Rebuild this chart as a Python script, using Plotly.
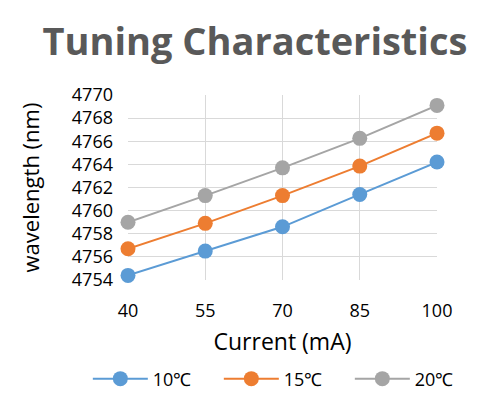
import plotly.graph_objects as go

current = [40, 55, 70, 85, 100]
tick_labels = ["40", "55", "70", "85", "100"]
series_names = ["10℃", "15℃", "20℃"]
wl_10 = [4754.4, 4756.5, 4758.6, 4761.4, 4764.2]
wl_15 = [4756.7, 4758.9, 4761.3, 4763.85, 4766.7]
wl_20 = [4759.0, 4761.3, 4763.7, 4766.25, 4769.1]
colors = ["#5B9BD5", "#ED7D31", "#A5A5A5"]

fig = go.Figure()
for name, ys, c in zip(series_names, [wl_10, wl_15, wl_20], colors):
    fig.add_trace(go.Scatter(
        x=current, y=ys, name=name, mode="lines+markers",
        line=dict(color=c, width=2),
        marker=dict(color=c, size=15),
        cliponaxis=False,
    ))

font_family = "Open Sans, Liberation Sans, sans-serif"
fig.update_layout(
    width=487, height=399,
    margin=dict(l=120, r=58, t=87, b=127, autoexpand=False),
    paper_bgcolor="white", plot_bgcolor="white",
    font=dict(family=font_family, color="black"),
    title=dict(text="<b>Tuning Characteristics</b>", x=0.507, xanchor="center",
               y=0.915, yanchor="middle",
               font=dict(size=38, color="#595959", family=font_family)),
    showlegend=True,
    legend=dict(orientation="h", x=-0.13, xanchor="left", y=-0.535, yanchor="middle",
                font=dict(size=18, color="black"), itemwidth=55,
                entrywidth=61, entrywidthmode="pixels"),
)
fig.update_xaxes(
    tickvals=current, ticktext=tick_labels, range=[40, 100],
    showgrid=True, gridcolor="#D9D9D9", gridwidth=1,
    zeroline=False, showline=False, ticks="",
    tickfont=dict(size=18), ticklabelstandoff=18,
    title=dict(text="Current (mA)", font=dict(size=23), standoff=12),
)
fig.update_yaxes(
    range=[4754, 4770], dtick=2, tick0=4754,
    showgrid=True, gridcolor="#D9D9D9", gridwidth=1,
    zeroline=False, showline=False, ticks="",
    tickfont=dict(size=18), tickformat="d", ticklabelstandoff=14,
    title=dict(text="wavelength (nm)", font=dict(size=22), standoff=26),
)
fig.write_html("out.html")
